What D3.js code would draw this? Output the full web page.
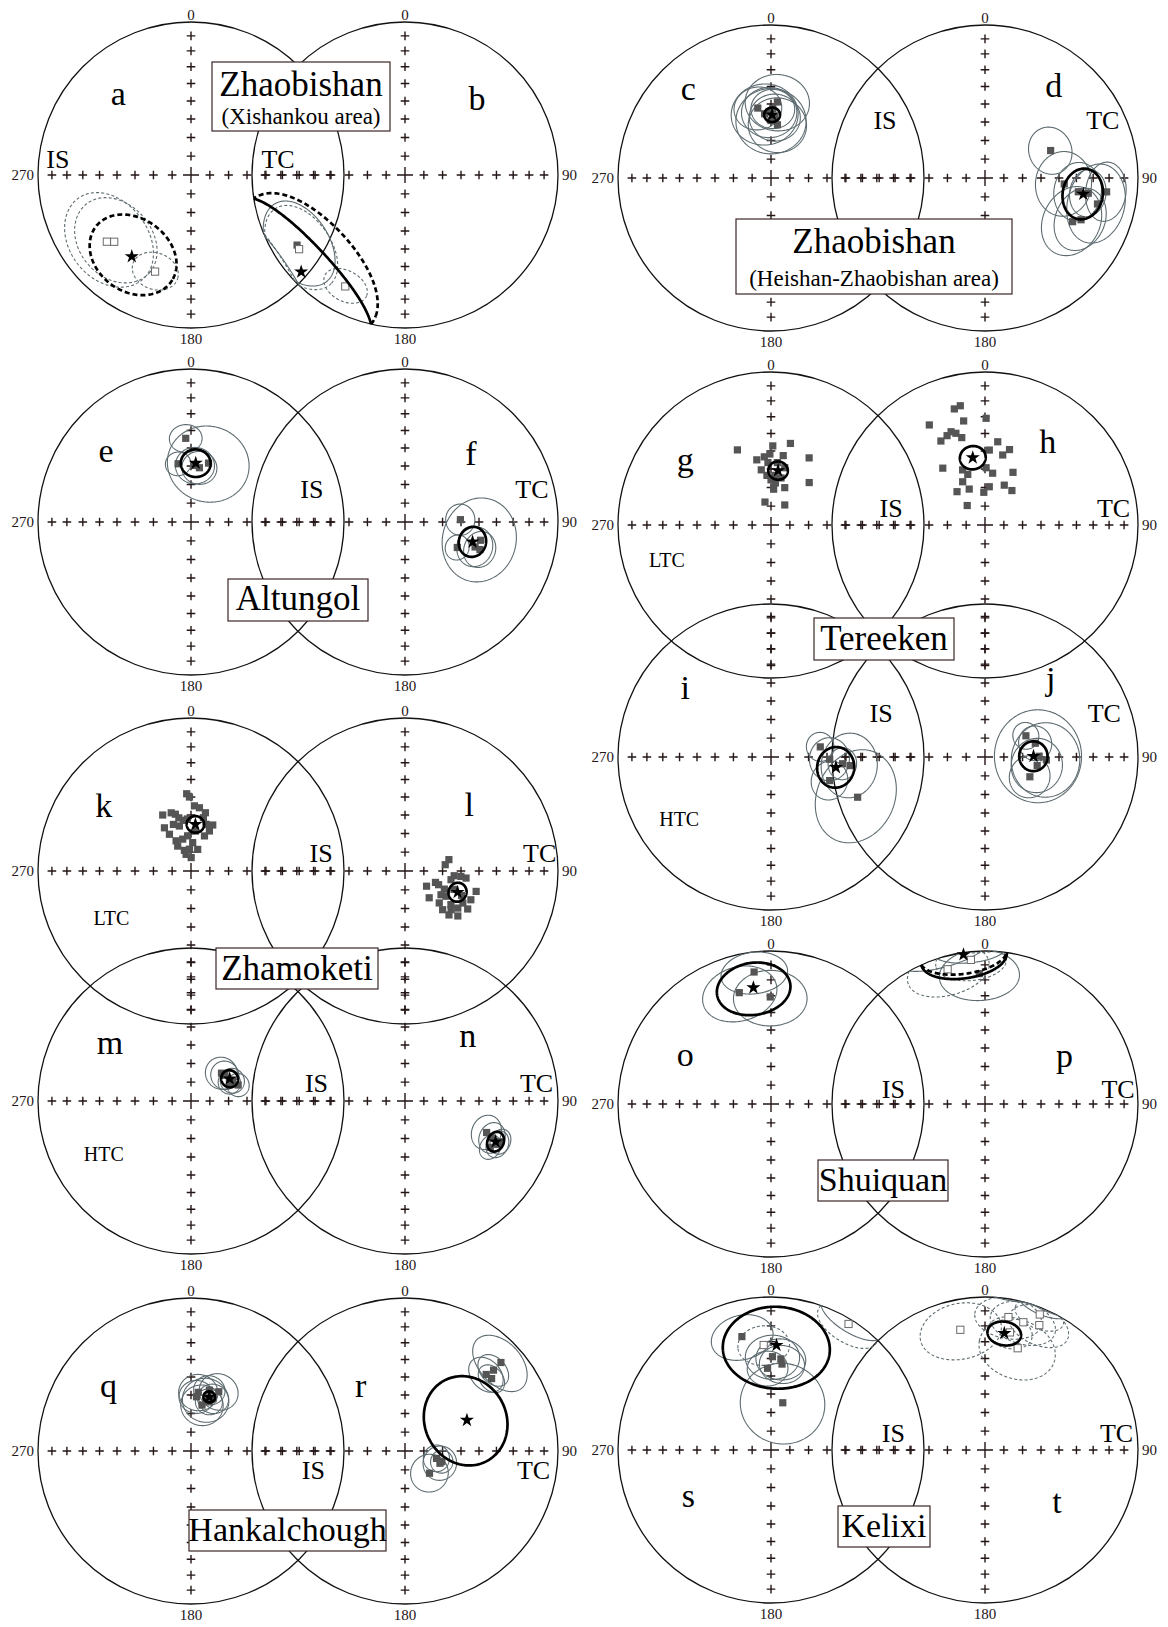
<!DOCTYPE html>
<html>
<head>
<meta charset="utf-8">
<script src="https://cdn.jsdelivr.net/npm/d3@7"></script>
<style>
  html, body { margin: 0; padding: 0; background: #fff; }
  svg { display: block; font-family: "Liberation Serif", "Times New Roman", serif; }
</style>
</head>
<body>
<svg id="fig" width="1168" height="1627"></svg>
<script>
// ---------- Paleomagnetic directions (declination, inclination, a95) ----------
// Tick marks every 10 degrees of inclination along the N-S and E-W axes
const tickIncs = [80, 70, 60, 50, 40, 30, 20, 10];
const axisDecs = [0, 90, 180, 270];
const axisLabels = ["0", "90", "180", "270"];

// Zhaobishan (Xishankou area)
const sitesA = [[231.6, -30.5, 24], [229, -33.9, 22], [200.4, -33.1, 11]];
const meanA = [216, -34.5, 22];
const sitesB = [[237, 17, 20], [235, -16.6, 20], [208.2, -18.5, 10]];
const meanB = [227, -8, 35];

// Zhaobishan (Heishan-Zhaobishan area)
const sitesC = [[349.3, 51.6, 12], [4.8, 48.7, 16], [358.4, 54.5, 14], [3.6, 57.3, 13],
                [0, 59.2, 18], [6.9, 61.3, 15], [354.3, 55.3, 17], [1.5, 52.6, 11]];
const meanC = [1, 56, 4];
const sitesD = [[67.3, 51.6, 12], [94.3, 46.9, 16], [98.4, 38.3, 14], [96.5, 21.1, 13],
                [103, 25.5, 18], [113.5, 32.1, 15], [116.5, 36.2, 17], [98.4, 32.3, 11]];
const meanD = [99.3, 35.2, 12];

// Altungol
const sitesE = [[356.4, 44.4, 8], [347.5, 58, 6.5], [16.6, 57, 21], [8.8, 60.6, 9], [4, 59.6, 10]];
const meanE = [4.6, 58.3, 7.6];
const sitesF = [[87.6, 60.3, 8], [116, 58.8, 6.5], [103.6, 47.9, 21], [110.2, 46.7, 9], [109.6, 49.8, 10]];
const meanF = [106.4, 52, 7.6];

// Tereeken, low-temperature component (specimen directions)
const specG = [[335.9, 45.3], [1.3, 47.1], [13.4, 44.4], [347.7, 54.1], [354.4, 53.1], [359.1, 51.7],
               [357.2, 56.4], [355.3, 63.4], [13.5, 58.4], [12.1, 64.3], [4.2, 70.9], [20.2, 68.8],
               [29.6, 48.2], [42, 59.4], [345.3, 77.4], [34.5, 77.1], [6, 67.5], [5.8, 56.3],
               [4.3, 63.4], [0, 65.9], [350, 60], [10, 52]];
const meanG = [7.4, 60.6, 5];
const specH = [[345.2, 22.6], [348.3, 21.5], [330.9, 26.1], [348.4, 31.2], [0.6, 30.9], [340, 35.4],
               [342.4, 37.2], [337, 36.7], [332.3, 38], [345.1, 40.6], [8.7, 44.2], [3.3, 49.4],
               [14.2, 51], [323.4, 51.8], [337.9, 58.1], [341.2, 61.4], [1.1, 59.3], [8.4, 62],
               [332.7, 64], [336.3, 69.1], [320, 66.8], [6.4, 69.5], [25.8, 66.4], [357.9, 72.6],
               [317.6, 76], [38, 66.7], [18, 47], [28, 58]];
const meanH = [349.7, 53.1, 6.5];

// Tereeken, high-temperature component
const sitesI = [[78.4, 63.1, 7.5], [92.2, 58.5, 11], [111.9, 56, 10], [96.2, 46.9, 16],
                [114.9, 37.6, 23], [95.4, 51.2, 8]];
const meanI = [99.1, 54.6, 10.3];
const sitesJ = [[62.6, 65.4, 7], [74.7, 62.1, 9], [113.8, 63.8, 11], [99.3, 61.7, 14],
                [89.2, 61, 24], [92.8, 57, 19]];
const meanJ = [89.1, 64.1, 7.7];

// Zhamoketi, low-temperature component (specimen directions)
const specK = [[356.8, 48.1], [358.8, 50], [333.2, 56.3], [341.2, 57], [344.6, 58.4], [328.4, 62.9],
               [339.3, 63.4], [345.5, 65.2], [13.9, 57.8], [13.1, 60.7], [25.3, 62.8], [24.7, 66.5],
               [21, 70], [333.7, 72.1], [345.4, 72.5], [354.5, 71.2], [3.4, 74.9], [331.9, 75],
               [342.3, 78.5], [356, 78.4], [343.6, 80.8], [17.2, 78], [0.7, 82.9], [329.6, 67.3],
               [7.6, 55.7], [3, 54.9], [347.1, 60.8], [351.4, 62.6], [18, 63.8], [6.3, 68.6], [356, 62.1]];
const meanK = [5.4, 65, 4.5];
const specL = [[75.5, 65.8], [81.1, 68.3], [95.5, 63.6], [100.7, 65], [95.5, 59.9], [96.6, 57],
               [110.5, 72.7], [112.2, 70.7], [125.2, 76], [114.7, 66.9], [123.4, 67], [121.6, 64.3],
               [137.9, 70.8], [106, 50], [113.6, 51.2], [133, 65], [126.2, 59.5], [119, 54.4],
               [135.8, 61.1], [121.2, 50.4], [130, 57.7], [125.1, 55.3], [135, 56.6], [130.4, 52.6],
               [110.6, 62], [113.4, 56.9]];
const meanL = [112, 59.6, 4.9];

// Zhamoketi, high-temperature component
const sitesM = [[47.6, 68, 8.5], [52.8, 67.3, 7.5], [63.9, 65.4, 6.5], [71.3, 63.4, 6], [64.4, 67.3, 6]];
const meanM = [60.1, 66.2, 4.5];
const sitesN = [[111.1, 42.3, 8.5], [113, 38.1, 7.5], [115.1, 33.6, 6.5], [118.5, 36.7, 6], [113.1, 32.6, 6]];
const meanN = [114.2, 35.3, 4.8];

// Shuiquan
const sitesO = [[352.7, 14.1, 14], [344.1, 25.3, 17], [359.6, 30.7, 17]];
const meanO = [351.4, 24.1, 16.5];
const sitesP = [[354.4, -6, 14], [344.5, -9.5, 17], [357.5, 15.8, 17]];
const meanP = [351.8, 1.5, 16.5];

// Hankalchough
const sitesQ = [[7.1, 58.3, 10], [13.5, 64.8, 11], [25.1, 54.8, 10], [22.9, 59.6, 8],
                [16.1, 61.6, 12], [5.8, 60.8, 9], [16.8, 55.8, 8], [20, 62, 7]];
const meanQ = [18.7, 59.4, 3];
const sitesR = [[47.3, 15.8, 14], [46.7, 27.9, 9], [47.6, 22.7, 8], [50.1, 27.1, 7],
                [103.2, 72.8, 7], [106.2, 69.6, 6], [132.2, 72.4, 10], [109.3, 70.3, 9]];
const meanR = [63.5, 52.7, 23];

// Kelixi
const sitesS = [[345.6, 24.5, 14], [356, -31.8, 12], [0.9, 38.9, 13], [6.2, 39.9, 12],
                [7.3, 42.8, 11], [357.6, 45.6, 10], [14, 64, 22], [31.6, -3.7, 13]];
const meanS = [3, 32, 25];
const sitesT = [[348.4, -20.9, 18], [10, -12.8, 14], [16.7, -13.9, 14], [23.5, -12, 13],
                [12, -22.5, 10], [17.8, -30.8, 18], [22, -5, 10]];
const meanT = [9.4, 23.7, 7.5];

// Locality names shown in framed boxes
const titles = [
  ["Zhaobishan", "(Xishankou area)"],
  ["Zhaobishan", "(Heishan-Zhaobishan area)"],
  ["Altungol"], ["Tereeken"], ["Zhamoketi"], ["Shuiquan"], ["Hankalchough"], ["Kelixi"]
];

// ---------- Layout ----------
const R = 153;
const LX = [191, 405], RX = [771, 985];

const nets = [
  {cx: LX[0], cy: 175, sites: sitesA, mean: meanA, letter: "a", lp: [-0.475, 0.457], mode: "IS", mp: [-0.87, 0.043], top: true, bottom: true, side: "270"},
  {cx: LX[1], cy: 175, sites: sitesB, mean: meanB, letter: "b", lp: [0.47, 0.424], mode: "TC", mp: [-0.83, 0.043], top: true, bottom: true, side: "90"},
  {cx: RX[0], cy: 178, sites: sitesC, mean: meanC, letter: "c", lp: [-0.54, 0.51], mode: "IS", mp: [0.745, 0.32], top: true, bottom: true, side: "270"},
  {cx: RX[1], cy: 178, sites: sitesD, mean: meanD, letter: "d", lp: [0.45, 0.53], mode: "TC", mp: [0.77, 0.32], top: true, bottom: true, side: "90"},
  {cx: LX[0], cy: 522, sites: sitesE, mean: meanE, letter: "e", lp: [-0.556, 0.39], mode: "IS", mp: [0.79, 0.16], top: true, bottom: true, side: "270"},
  {cx: LX[1], cy: 522, sites: sitesF, mean: meanF, letter: "f", lp: [0.43, 0.37], mode: "TC", mp: [0.83, 0.16], top: true, bottom: true, side: "90"},
  {cx: RX[0], cy: 525, spec: specG, mean: meanG, letter: "g", lp: [-0.56, 0.35], mode: "IS", mp: [0.785, 0.05], extra: "LTC", ep: [-0.68, -0.275], top: true, bottom: false, side: "270"},
  {cx: RX[1], cy: 525, spec: specH, mean: meanH, letter: "h", lp: [0.41, 0.47], mode: "TC", mp: [0.84, 0.05], top: true, bottom: false, side: "90"},
  {cx: RX[0], cy: 757, sites: sitesI, mean: meanI, letter: "i", lp: [-0.56, 0.38], mode: "IS", mp: [0.72, 0.23], extra: "HTC", ep: [-0.6, -0.45], top: false, bottom: true, side: "270"},
  {cx: RX[1], cy: 757, sites: sitesJ, mean: meanJ, letter: "j", lp: [0.43, 0.44], mode: "TC", mp: [0.78, 0.23], top: false, bottom: true, side: "90"},
  {cx: LX[0], cy: 871, spec: specK, mean: meanK, letter: "k", lp: [-0.57, 0.35], mode: "IS", mp: [0.85, 0.06], extra: "LTC", ep: [-0.52, -0.35], top: true, bottom: false, side: "270"},
  {cx: LX[1], cy: 871, spec: specL, mean: meanL, letter: "l", lp: [0.42, 0.36], mode: "TC", mp: [0.88, 0.06], top: true, bottom: false, side: "90"},
  {cx: LX[0], cy: 1101, sites: sitesM, mean: meanM, letter: "m", lp: [-0.53, 0.31], mode: "IS", mp: [0.82, 0.06], extra: "HTC", ep: [-0.57, -0.39], top: false, bottom: true, side: "270"},
  {cx: LX[1], cy: 1101, sites: sitesN, mean: meanN, letter: "n", lp: [0.41, 0.35], mode: "TC", mp: [0.86, 0.06], top: false, bottom: true, side: "90"},
  {cx: RX[0], cy: 1104, sites: sitesO, mean: meanO, letter: "o", lp: [-0.56, 0.25], mode: "IS", mp: [0.8, 0.04], top: true, bottom: true, side: "270"},
  {cx: RX[1], cy: 1104, sites: sitesP, mean: meanP, letter: "p", lp: [0.52, 0.24], mode: "TC", mp: [0.87, 0.04], top: true, bottom: true, side: "90"},
  {cx: LX[0], cy: 1451, sites: sitesQ, mean: meanQ, letter: "q", lp: [-0.54, 0.35], mode: "IS", mp: [0.8, -0.18], top: true, bottom: true, side: "270"},
  {cx: LX[1], cy: 1451, sites: sitesR, mean: meanR, letter: "r", lp: [-0.29, 0.35], mode: "TC", mp: [0.84, -0.18], top: true, bottom: true, side: "90"},
  {cx: RX[0], cy: 1450, sites: sitesS, mean: meanS, letter: "s", lp: [-0.54, -0.37], mode: "IS", mp: [0.8, 0.05], top: true, bottom: true, side: "270"},
  {cx: RX[1], cy: 1450, sites: sitesT, mean: meanT, letter: "t", lp: [0.47, -0.41], mode: "TC", mp: [0.86, 0.05], top: true, bottom: true, side: "90"}
];

// Framed locality boxes: [x0, y0, x1, y1] and text baselines
const boxes = [
  {rect: [212, 62, 390, 131], base: [96, 124], size: [35, 23]},
  {rect: [736, 219, 1012, 294], base: [253, 286], size: [35, 23]},
  {rect: [228, 579, 368, 621], base: [610], size: [35]},
  {rect: [814, 618, 954, 660], base: [650], size: [35]},
  {rect: [216, 948, 378, 989], base: [980], size: [35]},
  {rect: [818, 1160, 948, 1201], base: [1191], size: [34]},
  {rect: [189, 1510, 386, 1551], base: [1541], size: [34]},
  {rect: [838, 1506, 930, 1547], base: [1537], size: [34]}
];

// ---------- Equal-area (Schmidt) projection helpers ----------
const RAD = Math.PI / 180;
function dirVec(dec, inc) {           // [north, east, down]
  return [Math.cos(inc * RAD) * Math.cos(dec * RAD), Math.cos(inc * RAD) * Math.sin(dec * RAD), Math.sin(inc * RAD)];
}
function projVec(v) {                 // upper-hemisphere points are folded onto the same azimuth
  const h = Math.hypot(v[0], v[1]);
  const r = Math.sqrt(Math.max(0, 1 - Math.abs(v[2]) / Math.hypot(v[0], v[1], v[2])));
  return h < 1e-12 ? [0, 0] : [r * v[1] / h, r * v[0] / h];
}
function project(dec, inc) { return projVec(dirVec(dec, inc)); }
function cross(a, b) { return [a[1] * b[2] - a[2] * b[1], a[2] * b[0] - a[0] * b[2], a[0] * b[1] - a[1] * b[0]]; }
function unit(a) { const n = Math.hypot(a[0], a[1], a[2]); return a.map(c => c / n); }

// Small circle of radius a95 around a direction, split into lower/upper hemisphere runs
function coneSegments(dec, inc, a95) {
  const m = dirVec(dec, inc);
  const helper = Math.abs(m[2]) < 0.9 ? [0, 0, 1] : [1, 0, 0];
  const e1 = unit(cross(m, helper)), e2 = cross(m, e1);
  const ca = Math.cos(a95 * RAD), sa = Math.sin(a95 * RAD);
  const n = 240, pts = [];
  for (let k = 0; k <= n; k++) {
    const t = (k / n) * 2 * Math.PI;
    pts.push([0, 1, 2].map(j => ca * m[j] + sa * (Math.cos(t) * e1[j] + Math.sin(t) * e2[j])));
  }
  const segs = [];
  let cur = {up: pts[0][2] < 0, pts: [pts[0]]};
  for (let k = 1; k < pts.length; k++) {
    const p = pts[k], up = p[2] < 0;
    if (up !== cur.up) {
      const q = pts[k - 1], f = q[2] / (q[2] - p[2]);
      const c = [0, 1, 2].map(j => q[j] + f * (p[j] - q[j]));
      c[2] = 0;
      cur.pts.push(c);
      segs.push(cur);
      cur = {up: up, pts: [c]};
    }
    cur.pts.push(p);
  }
  segs.push(cur);
  return segs.map(s => ({up: s.up, pts: s.pts.map(projVec)}));
}

// ---------- Drawing ----------
const svg = d3.select("#fig");
const INK = "#241616";
const SITE = "#5d6b70";
const SQ = "#555555";
const gNets = svg.append("g"), gTicks = svg.append("g"), gData = svg.append("g"),
      gText = svg.append("g"), gBoxes = svg.append("g");

nets.forEach(net => {
  const x = d3.scaleLinear().domain([-1, 1]).range([net.cx - R, net.cx + R]);
  const y = d3.scaleLinear().domain([-1, 1]).range([net.cy + R, net.cy - R]);
  const line = d3.line().x(p => x(p[0])).y(p => y(p[1]));

  // primitive circle
  gNets.append("ellipse")
    .attr("cx", x(0)).attr("cy", y(0)).attr("rx", x(1) - x(0)).attr("ry", y(-1) - y(0))
    .attr("fill", "none").attr("stroke", "#111").attr("stroke-width", 1.3);

  // 10-degree crosses along the axes and the larger centre cross
  const ticks = [];
  axisDecs.forEach(d => tickIncs.forEach(i => ticks.push(project(d, i))));
  const h = 4.3;
  gTicks.selectAll(null).data(ticks).enter().append("path")
    .attr("d", p => `M${x(p[0]) - h},${y(p[1])}H${x(p[0]) + h}M${x(p[0])},${y(p[1]) - h}V${y(p[1]) + h}`)
    .attr("stroke", INK).attr("stroke-width", 1.4).attr("fill", "none");
  const c0 = project(0, 90);
  gTicks.append("path")
    .attr("d", `M${x(c0[0]) - 8},${y(c0[1])}H${x(c0[0]) + 8}M${x(c0[0])},${y(c0[1]) - 8}V${y(c0[1]) + 8}`)
    .attr("stroke", INK).attr("stroke-width", 1.4);

  // site confidence circles
  (net.sites || []).forEach(s => {
    coneSegments(s[0], s[1], s[2]).forEach(seg => {
      gData.append("path").attr("d", line(seg.pts))
        .attr("fill", "none").attr("stroke", SITE).attr("stroke-width", 1.1)
        .attr("stroke-dasharray", seg.up ? "3,2.2" : null);
    });
  });

  // site means / specimen directions
  const pts = (net.sites || net.spec).map(s => ({p: project(s[0], s[1]), up: s[1] < 0}));
  gData.selectAll(null).data(pts).enter().append("rect")
    .attr("x", d => x(d.p[0]) - 3.6).attr("y", d => y(d.p[1]) - 3.6)
    .attr("width", 7.2).attr("height", 7.2)
    .attr("fill", d => d.up ? "#fff" : SQ)
    .attr("stroke", d => d.up ? "#6a6a6a" : "none").attr("stroke-width", 1);

  // overall mean with its a95 cone
  const mn = net.mean;
  coneSegments(mn[0], mn[1], mn[2]).forEach(seg => {
    gData.append("path").attr("d", line(seg.pts))
      .attr("fill", "none").attr("stroke", "#000").attr("stroke-width", 2.7)
      .attr("stroke-dasharray", seg.up ? "5,3" : null);
  });
  const mp = project(mn[0], mn[1]);
  gData.append("path")
    .attr("d", d3.symbol().type(d3.symbolStar).size(62)())
    .attr("transform", `translate(${x(mp[0])},${y(mp[1])})`)
    .attr("fill", "#000");

  // text: panel letter, coordinate system, component
  gText.append("text").attr("x", x(net.lp[0])).attr("y", y(net.lp[1]))
    .attr("text-anchor", "middle").attr("font-size", 34).attr("fill", "#000").text(net.letter);
  gText.append("text").attr("x", x(net.mp[0])).attr("y", y(net.mp[1]))
    .attr("text-anchor", "middle").attr("font-size", 26).attr("fill", "#000").text(net.mode);
  if (net.extra) {
    gText.append("text").attr("x", x(net.ep[0])).attr("y", y(net.ep[1]))
      .attr("text-anchor", "middle").attr("font-size", 20).attr("fill", "#000").text(net.extra);
  }

  // azimuth labels
  const lab = (tx, ty, anchor, t) => gText.append("text").attr("x", tx).attr("y", ty)
    .attr("text-anchor", anchor).attr("font-size", 15).attr("fill", INK).text(t);
  if (net.top) lab(x(0), y(1) - 2, "middle", axisLabels[0]);
  if (net.bottom) lab(x(0), y(-1) + 16, "middle", axisLabels[2]);
  if (net.side === "270") lab(x(-1) - 4, y(0) + 5, "end", axisLabels[3]);
  else lab(x(1) + 4, y(0) + 5, "start", axisLabels[1]);
});

// framed locality names
boxes.forEach((b, k) => {
  const [x0, y0, x1, y1] = b.rect;
  gBoxes.append("rect").attr("x", x0).attr("y", y0).attr("width", x1 - x0).attr("height", y1 - y0)
    .attr("fill", "#fff").attr("stroke", "#3a2626").attr("stroke-width", 1.2);
  titles[k].forEach((t, j) => {
    gBoxes.append("text").attr("x", (x0 + x1) / 2).attr("y", b.base[j])
      .attr("text-anchor", "middle").attr("font-size", b.size[j]).attr("fill", "#000").text(t);
  });
});
</script>
</body>
</html>
